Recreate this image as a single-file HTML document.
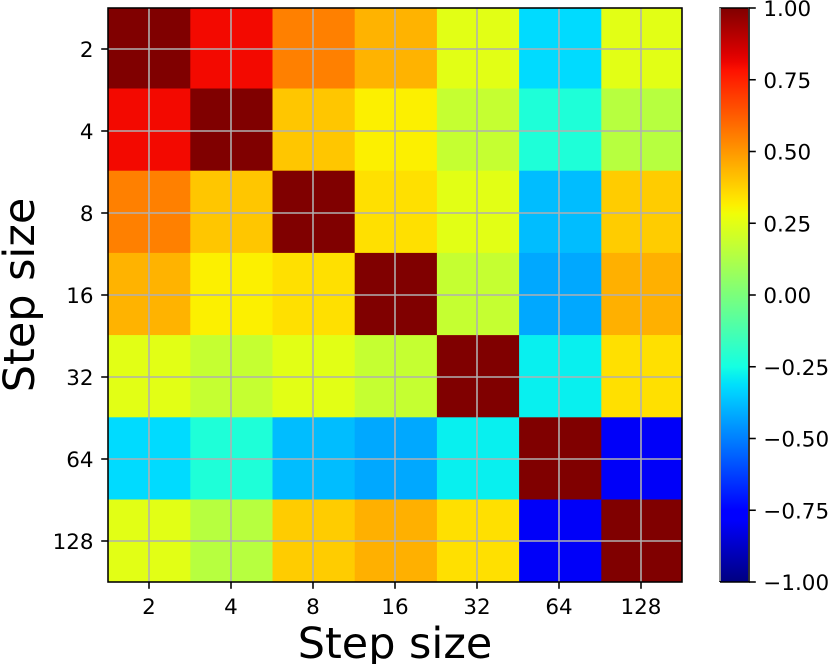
<!DOCTYPE html>
<html>
<head>
<meta charset="utf-8">
<title>Step size correlation heatmap</title>
<style>
html,body{margin:0;padding:0;background:#fff;width:830px;height:664px;overflow:hidden}
svg{display:block}
text{font-family:"DejaVu Sans","Liberation Sans",sans-serif;fill:#000}
</style>
</head>
<body>
<svg id="chart" xmlns="http://www.w3.org/2000/svg" width="830" height="664" viewBox="0 0 830 664">
  <defs>
    <linearGradient id="jet-gradient" x1="0" y1="1" x2="0" y2="0"></linearGradient>
    <clipPath id="plot-clip"><rect x="108" y="8" width="574" height="574"></rect></clipPath>
  </defs>
  <g id="cells" clip-path="url(#plot-clip)"></g>
  <g id="grid"></g>
  <g id="xticks"></g>
  <g id="yticks"></g>
  <rect x="108" y="8" width="574" height="574" fill="none" stroke="#000" stroke-width="1.56"></rect>
  <text x="395" y="658" font-size="42.9" text-anchor="middle">Step size</text>
  <text x="0" y="0" font-size="42.9" text-anchor="middle" transform="translate(34,295) rotate(-90)">Step size</text>
  <rect x="720" y="8" width="29" height="574" fill="url(#jet-gradient)"></rect>
  <path d="M720 582V8H749V582H720" fill="none" stroke="#000" stroke-width="1.56"></path>
  <line x1="720" y1="8" x2="720" y2="581" stroke="#999" stroke-width="1.8"></line>
  <line x1="749" y1="8" x2="749" y2="581" stroke="#333" stroke-width="1.8"></line>
  <g id="cticks"></g>
</svg>
<script>
const categories = ['2', '4', '8', '16', '32', '64', '128'];
const row2 = [1, 0.80, 0.55, 0.44, 0.25, -0.32, 0.25];
const row4 = [0.80, 1, 0.40, 0.312, 0.18, -0.226, 0.146];
const row8 = [0.55, 0.40, 1, 0.345, 0.25, -0.38, 0.388];
const row16 = [0.44, 0.312, 0.345, 1, 0.18, -0.42, 0.447];
const row32 = [0.25, 0.18, 0.25, 0.18, 1, -0.28, 0.345];
const row64 = [-0.32, -0.226, -0.38, -0.42, -0.28, 1, -0.79];
const row128 = [0.25, 0.146, 0.388, 0.447, 0.345, -0.79, 1];
const matrix = [row2, row4, row8, row16, row32, row64, row128];
const colorbarTicks = [1, 0.75, 0.5, 0.25, 0, -0.25, -0.5, -0.75, -1];

const NS = 'http://www.w3.org/2000/svg';
const plotLeft = 108, plotTop = 8, plotSize = 574;
const cellLeft = 108.1, cellTop = 6.3, cellSize = 82.2;
const barTop = 8, barHeight = 574, barRight = 749;
const TICK_FONT = 21.45, TICK_LEN = 6.8, LINE_W = 1.56;

function bandX(i) { return cellLeft + i * cellSize; }
function bandY(i) { return cellTop + i * cellSize; }
function centerX(i) { return plotLeft + (i + 0.5) * plotSize / categories.length; }
function centerY(i) { return plotTop + (i + 0.5) * plotSize / categories.length; }
function barY(v) { return barTop + (1 - v) / 2 * barHeight; }

function interp(pts, t) {
  for (let i = 1; i < pts.length; i++) {
    if (t <= pts[i][0]) {
      const a = pts[i - 1], b = pts[i];
      return a[1] + (b[1] - a[1]) * (t - a[0]) / (b[0] - a[0]);
    }
  }
  return pts[pts.length - 1][1];
}
function jet(v) {
  const t = Math.max(0, Math.min(1, (v + 1) / 2));
  const r = interp([[0, 0], [0.35, 0], [0.66, 1], [0.89, 1], [1, 0.5]], t);
  const g = interp([[0, 0], [0.125, 0], [0.375, 1], [0.64, 1], [0.91, 0], [1, 0]], t);
  const b = interp([[0, 0.5], [0.11, 1], [0.34, 1], [0.65, 0], [1, 0]], t);
  return 'rgb(' + Math.round(r * 255) + ',' + Math.round(g * 255) + ',' + Math.round(b * 255) + ')';
}
function make(tag, attrs, parent) {
  const el = document.createElementNS(NS, tag);
  for (const k in attrs) el.setAttribute(k, attrs[k]);
  parent.appendChild(el);
  return el;
}
function formatTick(v) {
  return (v < 0 ? '\u2212' : '') + Math.abs(v).toFixed(2);
}

const cellsG = document.getElementById('cells');
const gridG = document.getElementById('grid');
const xG = document.getElementById('xticks');
const yG = document.getElementById('yticks');
const cG = document.getElementById('cticks');
const grad = document.getElementById('jet-gradient');

matrix.forEach(function (row, r) {
  row.forEach(function (val, c) {
    const cell = make('rect', {
      x: bandX(c), y: bandY(r),
      width: cellSize + 0.3,
      height: cellSize + (r === categories.length - 1 ? 1 : 0.3),
      fill: jet(val)
    }, cellsG);
    
    
  });
});

categories.forEach(function (label, i) {
  const gx = make('line', { x1: centerX(i), x2: centerX(i), y1: plotTop, y2: plotTop + plotSize, stroke: '#b0b0b0', 'stroke-width': LINE_W }, gridG);
  
  
  const gy = make('line', { y1: centerY(i), y2: centerY(i), x1: plotLeft, x2: plotLeft + plotSize, stroke: '#b0b0b0', 'stroke-width': LINE_W }, gridG);
  
  

  const tx = make('line', { x1: centerX(i), x2: centerX(i), y1: plotTop + plotSize, y2: plotTop + plotSize + TICK_LEN, stroke: '#000', 'stroke-width': LINE_W }, xG);
  
  
  const lx = make('text', { x: centerX(i), y: 614, 'font-size': TICK_FONT, 'text-anchor': 'middle' }, xG);
  lx.textContent = label;
  
  

  const ty = make('line', { y1: centerY(i), y2: centerY(i), x1: plotLeft, x2: plotLeft - TICK_LEN, stroke: '#000', 'stroke-width': LINE_W }, yG);
  
  
  const ly = make('text', { x: 93.5, y: centerY(i) + 8, 'font-size': TICK_FONT, 'text-anchor': 'end' }, yG);
  ly.textContent = label;
  
  
});

for (let s = 0; s <= 64; s++) {
  const v = -1 + 2 * s / 64;
  make('stop', { offset: (s / 64 * 100) + '%', 'stop-color': jet(v) }, grad);
}

colorbarTicks.forEach(function (v) {
  const m = make('line', { x1: barRight, x2: barRight + TICK_LEN, y1: barY(v), y2: barY(v), stroke: '#000', 'stroke-width': LINE_W }, cG);
  
  
  const t = make('text', { x: 763.4, y: barY(v) + 8, 'font-size': TICK_FONT }, cG);
  t.textContent = formatTick(v);
  
  
});
</script>
</body>
</html>
